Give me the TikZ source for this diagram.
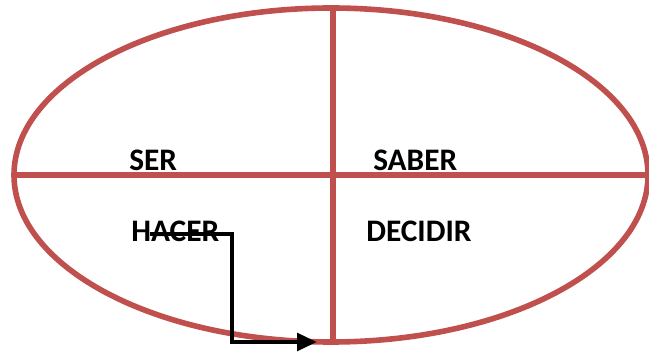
\documentclass[tikz,border=0pt]{standalone}
\usepackage{fontspec}
\setmainfont{Carlito}
\usetikzlibrary{arrows.meta}
\definecolor{rojo}{HTML}{C0504D}
\begin{document}
\begin{tikzpicture}[x=0.75pt, y=-0.75pt, line join=miter,
    borde/.style={rojo, line width=4.2pt},
    palabra/.style={anchor=base west, inner sep=0pt, font=\fontsize{23.5}{28}\selectfont\bfseries},
    flecha/.style={black, line width=3.4pt, -{Triangle[length=15pt, width=13pt]}}]
	\useasboundingbox (0,0) rectangle (649,352);
	% ==================== elipse y ejes ====================
	\draw[borde] (331,175) ellipse (317 and 167);
	\draw[borde] (14,175) -- (652,175);
	\draw[borde] (333,8) -- (333,342);
	
	% ==================== palabras ====================
	\node[palabra] (ser) at (129,171) {SER};
	\node[palabra] (saber) at (373,171) {SABER};
	\node[palabra] (hacer) at (131,242) {HACER};
	\node[palabra] (decidir) at (366,242) {DECIDIR};
	
	% ==================== flecha ====================
	\coordinate (inicio) at (150,234);
	\coordinate (fin) at (317,342);
	\draw[flecha] (inicio) -- (232,234) |- (fin);
\end{tikzpicture}
\end{document}
